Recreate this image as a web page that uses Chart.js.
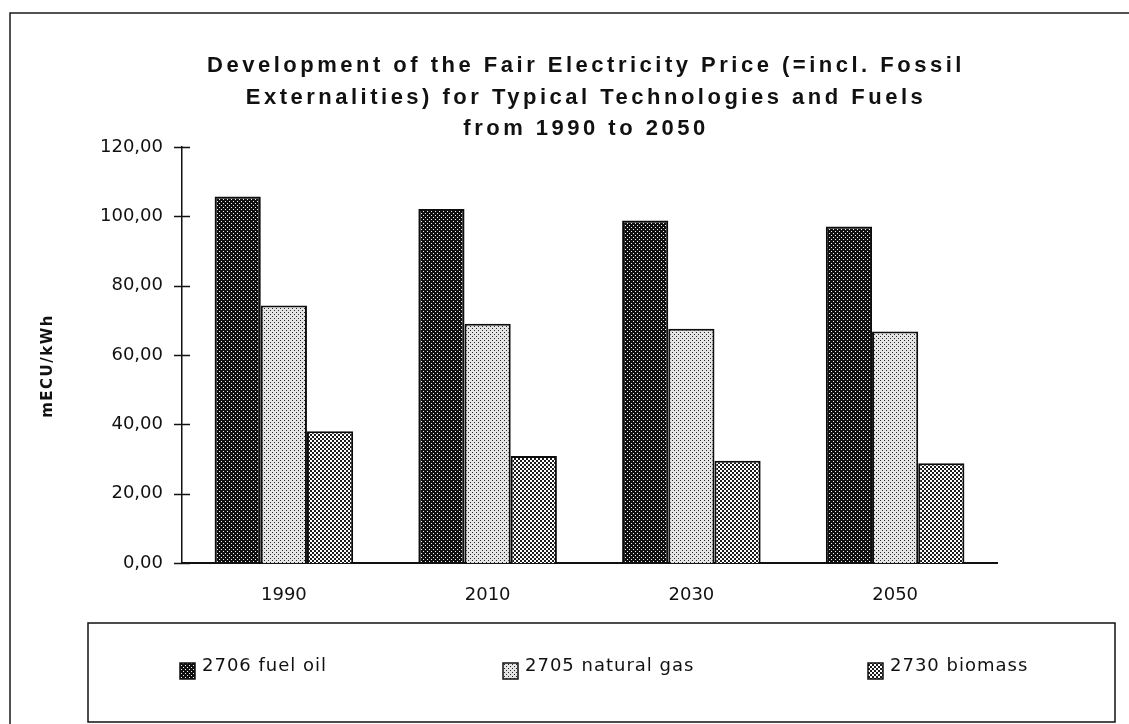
<!DOCTYPE html>
<html>
<head>
<meta charset="utf-8">
<script src="https://cdn.jsdelivr.net/npm/chart.js@4.4.1/dist/chart.umd.min.js"></script>
<style>
    html, body { margin: 0; padding: 0; background: #fff; }
    #wrap { width: 1129px; height: 724px; }
</style>
</head>
<body>
<div id="wrap"><canvas id="fairPriceChart" width="1129" height="724"></canvas></div>
<script>
const years = ['1990', '2010', '2030', '2050'];
const fuelOil = [105.7, 102.1, 98.8, 97.1];
const naturalGas = [74.3, 69.0, 67.6, 66.8];
const biomass = [38.0, 30.9, 29.5, 28.8];
const seriesNames = ['2706 fuel oil', '2705 natural gas', '2730 biomass'];
const yTickLabels = ['0,00', '20,00', '40,00', '60,00', '80,00', '100,00', '120,00'];
const yAxisName = 'mECU/kWh';
const titleLines = [
    'Development of the Fair Electricity Price (=incl. Fossil',
    'Externalities) for Typical Technologies and Fuels',
    'from 1990 to 2050'
];

// halftone-like fills for the bars
function dotPattern(bg, ink, size, dots) {
    const c = document.createElement('canvas');
    c.width = c.height = size;
    const g = c.getContext('2d');
    g.fillStyle = bg;
    g.fillRect(0, 0, size, size);
    g.fillStyle = ink;
    dots.forEach(d => g.fillRect(d[0], d[1], d[2], d[2]));
    return g.createPattern(c, 'repeat');
}

const fills = [
    dotPattern('#101010', '#f0f0f0', 4, [[1, 1, 1], [3, 3, 1]]),
    dotPattern('#e4e4e4', '#2a2a2a', 4, [[0, 0, 1], [2, 2, 1]]),
    dotPattern('#ffffff', '#1c1c1c', 4, [[0, 0, 2], [2, 2, 2]])
];

// page frame, title, axis name, crossing ticks on the value axis and the boxed legend
const decorations = {
    id: 'decorations',
    afterDraw(chart) {
        const ctx = chart.ctx;
        const y = chart.scales.y;
        ctx.save();

        ctx.strokeStyle = '#1a1a1a';
        ctx.lineWidth = 1.5;
        ctx.beginPath();
        ctx.moveTo(10, 724);
        ctx.lineTo(10, 13);
        ctx.lineTo(1129, 13);
        ctx.stroke();

        ctx.fillStyle = '#111';
        ctx.font = 'bold 22px "Liberation Sans", Arial, sans-serif';
        ctx.letterSpacing = '3.5px';
        ctx.textAlign = 'center';
        ctx.textBaseline = 'middle';
        const titleY = [66, 98, 129];
        titleLines.forEach((line, i) => ctx.fillText(line, 586, titleY[i]));

        ctx.save();
        ctx.translate(48, 366);
        ctx.rotate(-Math.PI / 2);
        ctx.font = 'bold 15px "DejaVu Sans", sans-serif';
        ctx.letterSpacing = '1.5px';
        ctx.fillText(yAxisName, 0, 0);
        ctx.restore();

        ctx.strokeStyle = '#111';
        ctx.lineWidth = 1.5;
        y.ticks.forEach((t, i) => {
            const py = Math.round(y.getPixelForTick(i)) + 0.5;
            ctx.beginPath();
            ctx.moveTo(y.right - 8, py);
            ctx.lineTo(y.right + 8, py);
            ctx.stroke();
        });

        ctx.strokeRect(88, 623, 1027, 99);
        ctx.letterSpacing = '1px';
        ctx.font = '18px "DejaVu Sans", sans-serif';
        ctx.textAlign = 'left';
        const legendX = [180, 503, 868];
        chart.data.datasets.forEach((ds, i) => {
            ctx.fillStyle = ds.backgroundColor;
            ctx.fillRect(legendX[i], 663, 15, 16);
            ctx.lineWidth = 1.5;
            ctx.strokeRect(legendX[i], 663, 15, 16);
            ctx.fillStyle = '#111';
            ctx.fillText(ds.label, legendX[i] + 22, 666);
        });
        ctx.restore();
    }
};

const datasets = [fuelOil, naturalGas, biomass].map((values, i) => ({
    label: seriesNames[i],
    data: values,
    backgroundColor: fills[i],
    borderColor: '#0d0d0d',
    borderWidth: 2,
    categoryPercentage: 0.68,
    barPercentage: 1.0
}));

const ctx = document.getElementById('fairPriceChart').getContext('2d');
new Chart(ctx, {
    type: 'bar',
    data: {
        labels: years,
        datasets: datasets
    },
    options: {
        responsive: false,
        animation: false,
        devicePixelRatio: 1,
        layout: {
            padding: { top: 147, left: 30, right: 132, bottom: 0 }
        },
        plugins: {
            legend: { display: false },
            tooltip: { enabled: false },
            title: { display: false }
        },
        scales: {
            x: {
                grid: { display: false, drawTicks: false },
                border: { display: true, color: '#111', width: 2 },
                ticks: {
                    color: '#111',
                    padding: 22,
                    font: { family: '"DejaVu Sans", sans-serif', size: 18 }
                },
                afterFit: scale => { scale.height = 161; }
            },
            y: {
                min: 0,
                max: 120,
                grid: { display: false, drawTicks: false },
                border: { display: true, color: '#111', width: 1.5 },
                ticks: {
                    stepSize: 20,
                    color: '#111',
                    padding: 19,
                    font: { family: '"DejaVu Sans", sans-serif', size: 18 },
                    callback: (value, index) => yTickLabels[index]
                },
                afterFit: scale => { scale.width = 152; }
            }
        }
    },
    plugins: [decorations]
});
</script>
</body>
</html>
